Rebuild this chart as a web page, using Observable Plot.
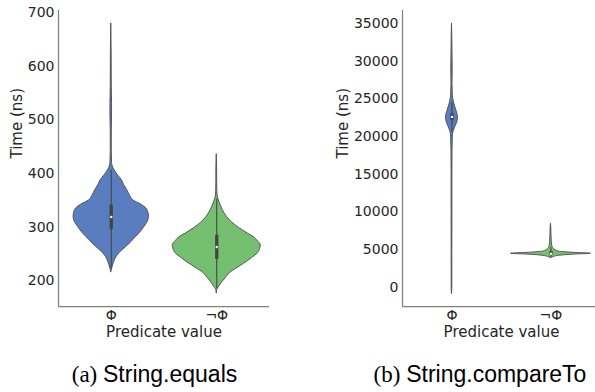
<!DOCTYPE html>
<html><head><meta charset="utf-8">
<script src="https://cdn.jsdelivr.net/npm/d3@7"></script>
<script src="https://cdn.jsdelivr.net/npm/@observablehq/plot@0.6"></script>
<style>
body{margin:0;background:#fff;}
#wrap{position:relative;width:595px;height:392px;overflow:hidden;background:#fff;}
#left{position:absolute;left:0;top:0;}
#right{position:absolute;left:297px;top:0;}
.cap{position:absolute;top:363px;font-size:23px;line-height:23px;white-space:nowrap;color:#000;transform:translateX(-50%);}
.cap .s{font-family:"Liberation Serif",serif;}
.cap .t{font-family:"Liberation Sans",sans-serif;}
</style></head><body>
<div id="wrap"><div id="left"></div><div id="right"></div>
<div class="cap" style="left:154.5px"><span class="s">(a)</span> <span class="t">String.equals</span></div>
<div class="cap" style="left:480px"><span class="s">(b)</span> <span class="t">String.compareTo</span></div>
</div>
<script>
// ---- data ----
const categories = ["Φ", "¬Φ"];
const colors = ["#597dbe", "#75bf70"];

// (a) String.equals : violin density profiles (time in ns, relative density)
const equalsPhiTime = [216, 222, 230, 238, 245, 253, 263, 272, 282, 291, 300, 310, 319, 328, 335, 342, 350, 358, 369, 378, 388, 395, 401, 407, 413, 420, 440, 480, 510, 530, 560, 620, 680];
const equalsPhiDensity = [0, 0.8, 2, 3.5, 5.5, 9, 15, 20, 25, 29.5, 33, 36.5, 37.7, 37, 35, 30, 22, 19, 16, 13, 10.5, 7.5, 5, 3, 1.5, 0.8, 0.5, 0.5, 0.8, 0.8, 0.5, 0.4, 0];
const equalsNotPhiTime = [177, 183, 190, 196, 205, 214, 223, 232, 242, 251, 260, 266, 274, 282, 288, 294, 303, 313, 325, 338, 350, 357, 365, 380, 400, 420, 436];
const equalsNotPhiDensity = [0, 0.5, 3, 5, 9, 13, 20, 27.5, 35, 41, 43.5, 44, 41, 36.7, 31, 26, 19, 13, 8, 4.5, 2, 1, 0.6, 0.4, 0.4, 0.3, 0];
// box stats: whisker low, q1, median, q3, whisker high
const equalsPhiBox = [222, 296, 319, 341, 406];
const equalsNotPhiBox = [185, 240, 263, 285, 352];

// (b) String.compareTo
const comparePhiTime = [-840, 0, 5000, 10000, 15000, 18000, 20000, 20600, 21260, 21900, 22586, 23200, 23912, 24800, 25500, 27000, 29000, 31000, 33000, 34970];
const comparePhiDensity = [0, 0.3, 0.35, 0.4, 0.4, 0.5, 0.8, 1.5, 3.3, 5.3, 6, 5, 3.3, 1.5, 0.8, 0.5, 0.7, 0.5, 0.3, 0];
const compareNotPhiTime = [3900, 4050, 4200, 4350, 4470, 4600, 4750, 4900, 5100, 5400, 6000, 7000, 8000, 8450];
const compareNotPhiDensity = [0, 3, 8, 22, 40, 22, 8, 5, 3, 1.5, 0.8, 0.5, 0.3, 0];
const comparePhiBox = [20500, 22100, 22600, 23000, 24500];
const compareNotPhiBox = [4000, 4300, 4470, 4750, 5300];

const equalsTicks = [200, 300, 400, 500, 600, 700];
const compareTicks = [0, 5000, 10000, 15000, 20000, 25000, 30000, 35000];

// ---- drawing ----
function violinPanel({times, dens, boxes, yDomain, yTicks, xDomain, width, marginLeft, marginRight, widthScale, yLabelDx, xLabelDx}) {
  const rows = [];
  categories.forEach((c, i) => times[i].forEach((t, j) => rows.push({cat: c, i, t, w: dens[i][j] * widthScale})));
  const stats = categories.map((c, i) => ({cat: c, i, lo: boxes[i][0], q1: boxes[i][1], med: boxes[i][2], q3: boxes[i][3], hi: boxes[i][4]}));
  const edge = "#555555";
  return Plot.plot({
    width, height: 345, marginTop: 10, marginBottom: 39, marginLeft, marginRight,
    style: {fontFamily: "DejaVu Sans", fontSize: "14px", color: "#262626", background: "white", overflow: "visible"},
    x: {domain: xDomain},
    y: {domain: yDomain},
    marks: [
      Plot.areaX(rows, {y: "t", x1: d => d.i - d.w, x2: d => d.i + d.w, z: "cat", fill: d => colors[d.i], stroke: edge, strokeWidth: 1, curve: "monotone-y"}),
      Plot.ruleX(stats, {x: "i", y1: "lo", y2: "hi", stroke: "#444444", strokeWidth: 1.1}),
      Plot.ruleX(stats, {x: "i", y1: "q1", y2: "q3", stroke: "#444444", strokeWidth: 3.3}),
      Plot.dot(stats, {x: "i", y: "med", r: 1.2, fill: "white", stroke: null}),
      Plot.ruleX([xDomain[0]], {stroke: "#7f7f7f", strokeWidth: 1.25}),
      Plot.ruleY([yDomain[0]], {stroke: "#7f7f7f", strokeWidth: 1.25}),
      Plot.axisY({ticks: yTicks, tickSize: 0, tickPadding: 4, tickFormat: "d", label: null, fontSize: 14}),
      Plot.axisX({ticks: [0, 1], tickFormat: i => categories[i], tickSize: 0, tickPadding: 4, label: null, fontSize: 14}),
      Plot.text(["Time (ns)"], {text: d => d, frameAnchor: "left", rotate: -90, dx: yLabelDx, fontSize: 15, fill: "#262626"}),
      Plot.text(["Predicate value"], {text: d => d, frameAnchor: "bottom", lineAnchor: "top", dy: 20, dx: xLabelDx, fontSize: 15, fill: "#262626"})
    ]
  });
}

document.getElementById("left").append(violinPanel({
  times: [equalsPhiTime, equalsNotPhiTime],
  dens: [equalsPhiDensity, equalsNotPhiDensity],
  boxes: [equalsPhiBox, equalsNotPhiBox],
  yDomain: [152, 704], yTicks: equalsTicks, xDomain: [-0.5, 1.5],
  width: 297, marginLeft: 58, marginRight: 28, widthScale: 1 / 105.5, yLabelDx: -41.5, xLabelDx: 0
}));
document.getElementById("right").append(violinPanel({
  times: [comparePhiTime, compareNotPhiTime],
  dens: [comparePhiDensity, compareNotPhiDensity],
  boxes: [comparePhiBox, compareNotPhiBox],
  yDomain: [-2520, 36700], yTicks: compareTicks, xDomain: [-0.5, 1.45],
  width: 298, marginLeft: 105, marginRight: 0, widthScale: 1 / 99, yLabelDx: -59.5, xLabelDx: 2.5
}));
</script>
</body></html>
